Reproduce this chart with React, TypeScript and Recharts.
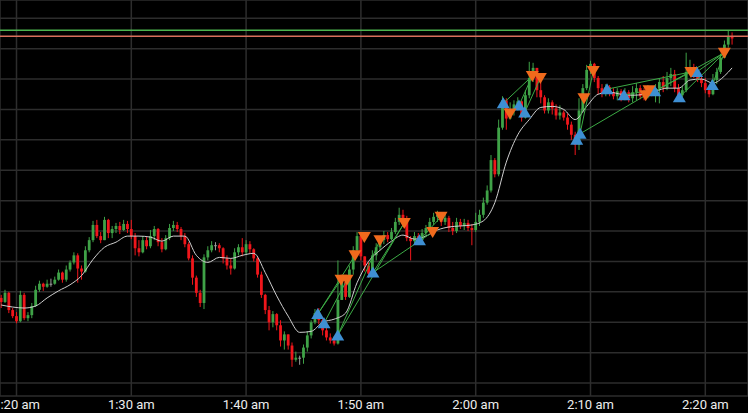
import {
    Bar,
    CartesianGrid,
    ComposedChart,
    Line,
    ReferenceLine,
    Scatter,
    XAxis,
    YAxis,
} from 'recharts';

// time axis: minutes after 1:20 am, one candle every 20 seconds
const FIRST_MINUTE = -4 / 3;
const CANDLE_STEP = 1 / 3;
const FIRST_OPEN = 84;

const TICK_MINUTES = [0, 10, 20, 30, 40, 50, 60];
const TIME_LABELS = ['1:20 am', '1:30 am', '1:40 am', '1:50 am', '2:00 am', '2:10 am', '2:20 am'];
const PRICE_GRID = [0, 30, 60, 90, 120, 150, 180, 210, 240, 270, 300, 330, 360];

const CLOSES = [
    80, 89, 72, 66, 61, 87, 64, 67, 76, 92,
    98, 95, 98, 98, 102, 109, 102, 112, 119, 126,
    113, 110, 131, 141, 156, 145, 141, 161, 148, 152,
    155, 151, 157, 152, 145, 133, 129, 141, 135, 145,
    152, 139, 132, 143, 153, 156, 152, 145, 137, 123,
    104, 89, 79, 124, 131, 136, 136, 133, 123, 116,
    113, 129, 134, 129, 137, 132, 123, 107, 87, 72,
    60, 68, 57, 42, 48, 37, 23, 25, 25, 35,
    47, 60, 69, 62, 52, 45, 42, 39, 82, 100,
    85, 112, 131, 145, 125, 116, 108, 126, 134, 141,
    146, 142, 149, 159, 166, 161, 143, 140, 145, 141,
    148, 153, 159, 164, 166, 159, 163, 153, 150, 159,
    155, 158, 153, 151, 159, 166, 178, 190, 220, 206,
    252, 279, 261, 269, 275, 278, 262, 284, 301, 311,
    289, 282, 269, 277, 271, 264, 267, 262, 255, 245,
    235, 269, 291, 309, 315, 301, 291, 286, 292, 287,
    283, 288, 282, 287, 281, 287, 291, 283, 282, 289,
    285, 291, 297, 291, 301, 305, 291, 284, 289, 307,
    311, 305, 300, 296, 289, 285, 299, 307, 321, 334,
    342, 340,
];

const HIGHS = [
    87, 92, 90, 74, 70, 91, 89, 70, 79, 96,
    101, 99, 102, 103, 105, 112, 110, 116, 121, 129,
    128, 116, 135, 144, 160, 161, 149, 164, 162, 155,
    158, 159, 161, 160, 161, 148, 141, 145, 144, 151,
    155, 153, 143, 146, 157, 160, 159, 154, 148, 139,
    126, 106, 92, 127, 135, 140, 139, 138, 134, 126,
    123, 133, 137, 143, 141, 140, 133, 125, 110, 88,
    76, 71, 69, 62, 51, 47, 40, 31, 27, 38,
    51, 62, 73, 74, 65, 56, 49, 46, 121, 104,
    103, 116, 135, 149, 148, 125, 119, 131, 138, 145,
    150, 149, 153, 163, 173, 171, 165, 145, 149, 148,
    152, 156, 163, 168, 170, 168, 167, 165, 159, 163,
    162, 162, 161, 157, 168, 171, 183, 195, 225, 222,
    260, 283, 281, 277, 279, 282, 279, 289, 317, 316,
    309, 304, 284, 281, 279, 275, 274, 269, 266, 258,
    248, 281, 295, 314, 318, 316, 303, 295, 295, 294,
    291, 291, 290, 291, 289, 293, 296, 294, 291, 294,
    293, 295, 301, 303, 307, 311, 309, 295, 293, 326,
    319, 315, 309, 304, 301, 294, 305, 311, 325, 338,
    348, 346,
];

const LOWS = [
    74, 79, 69, 64, 59, 60, 62, 61, 64, 75,
    90, 91, 94, 95, 97, 101, 99, 100, 110, 117,
    99, 102, 109, 129, 139, 143, 138, 141, 143, 143,
    148, 147, 150, 148, 142, 126, 125, 128, 132, 133,
    141, 135, 129, 131, 141, 150, 149, 141, 134, 121,
    97, 85, 75, 73, 121, 129, 131, 129, 118, 112,
    107, 112, 126, 125, 127, 128, 120, 104, 84, 68,
    52, 55, 52, 36, 33, 33, 16, 21, 18, 19,
    31, 44, 58, 58, 47, 42, 39, 37, 38, 85,
    82, 84, 107, 127, 121, 110, 104, 106, 121, 131,
    137, 139, 141, 147, 156, 157, 140, 121, 137, 138,
    139, 145, 151, 156, 159, 155, 156, 149, 146, 148,
    152, 151, 150, 136, 149, 155, 163, 176, 188, 203,
    204, 250, 250, 260, 264, 269, 258, 261, 281, 297,
    282, 276, 266, 266, 265, 260, 260, 259, 250, 240,
    225, 230, 267, 289, 305, 297, 285, 282, 283, 283,
    280, 279, 278, 279, 277, 277, 279, 280, 279, 281,
    283, 277, 276, 287, 289, 293, 287, 282, 282, 287,
    304, 301, 297, 292, 286, 282, 284, 295, 305, 321,
    331, 334,
];

// moving average, one reading per minute, plus the last candle
const MA_VALUES = [
    77, 75, 74, 76, 84, 91, 97, 106, 122, 134,
    139, 145, 145, 144, 140, 145, 145, 126, 119, 124,
    123, 126, 128, 109, 86, 66, 50, 51, 60, 63,
    69, 99, 120, 131, 140, 146, 142, 145, 151, 154,
    155, 156, 160, 178, 218, 245, 260, 272, 273, 270,
    260, 273, 285, 287, 285, 284, 285, 288, 291, 291,
    299, 300, 296, 303,
];
const MA_LAST = 311;

const BUY_TIMES = [26.24, 26.79, 27.98, 31.05, 35.1, 42.4, 43.77, 44.27, 48.8, 49.09, 51.44, 52.92, 55.59, 57.74, 59.25, 60.61];
const BUY_PRICES = [68, 59, 47, 109, 141, 276, 274, 267, 240, 246, 290, 284, 288, 282, 307, 294];
const SELL_TIMES = [28.27, 28.79, 29.49, 30.3, 31.66, 33.78, 36.25, 36.98, 42.99, 44.93, 45.63, 49.43, 50.24, 54.81, 55.1, 58.75, 61.66];
const SELL_PRICES = [102, 102, 126, 144, 141, 158, 149, 164, 266, 303, 301, 281, 308, 284, 289, 307, 326];

// [buy index, sell index]
const TRADES = [
    [0, 0], [0, 2], [1, 1], [2, 4], [2, 5], [3, 5], [3, 6], [4, 7],
    [5, 9], [6, 9], [7, 10], [8, 11], [9, 12], [9, 13], [10, 15],
    [11, 14], [12, 16], [13, 16], [14, 16], [15, 16], [12, 15],
];

const UPPER_LEVEL = 348.2;
const LOWER_LEVEL = 342.2;

const GREEN = '#3fa247';
const RED = '#f0161b';
const GREY = '#9c9c9c';
const BODY_WIDTH = 2.8;

const candles = CLOSES.map((close, i) => {
    const open = i === 0 ? FIRST_OPEN : CLOSES[i - 1];
    const high = Math.max(HIGHS[i], open, close);
    const low = Math.min(LOWS[i], open, close);
    return { t: FIRST_MINUTE + i * CANDLE_STEP, open, close, high, low, range: [low, high] };
});

const maData = [
    ...MA_VALUES.map((ma, k) => ({ t: FIRST_MINUTE + k, ma })),
    { t: FIRST_MINUTE + (CLOSES.length - 1) * CANDLE_STEP, ma: MA_LAST },
];

const buys = BUY_TIMES.map((t, i) => ({ t, p: BUY_PRICES[i] }));
const sells = SELL_TIMES.map((t, i) => ({ t, p: SELL_PRICES[i] }));

const Candle = (props: any) => {
    const { x, y, width, height, payload } = props;
    if (!payload || height == null) return null;
    const { open, close, high, low } = payload;
    const ratio = high === low ? 0 : height / (high - low);
    const yOpen = y + (high - open) * ratio;
    const yClose = y + (high - close) * ratio;
    const color = close > open ? GREEN : close < open ? RED : GREY;
    const cx = x + width / 2;
    const top = Math.min(yOpen, yClose);
    const bodyHeight = Math.max(1, Math.abs(yOpen - yClose));
    return (
        <g>
            <line x1={cx} x2={cx} y1={y} y2={y + height} stroke={color} strokeWidth={1} />
            <rect x={cx - BODY_WIDTH / 2} y={top} width={BODY_WIDTH} height={bodyHeight} fill={color} />
        </g>
    );
};

const UpTriangle = ({ cx, cy }: any) => (
    <polygon
        points={`${cx},${cy - 6} ${cx + 6.5},${cy + 5} ${cx - 6.5},${cy + 5}`}
        fill="#3e8fd3"
    />
);

const DownTriangle = ({ cx, cy }: any) => (
    <polygon
        points={`${cx - 6.5},${cy - 5} ${cx + 6.5},${cy - 5} ${cx},${cy + 6}`}
        fill="#f06a1c"
    />
);

const App = () => {
    return (
        <div style={{ width: 748, height: 413, background: '#000' }}>
            <style>{'body{margin:0;background:#000}'}</style>
            <ComposedChart
                width={748}
                height={413}
                data={candles}
                margin={{ top: 0, right: 0, bottom: 0, left: 0 }}
            >
                <CartesianGrid stroke="#2d2d2d" strokeWidth={1.5} />
                <XAxis
                    dataKey="t"
                    type="number"
                    domain={[-1.437, 63.72]}
                    allowDataOverflow
                    ticks={TICK_MINUTES}
                    interval={0}
                    tickFormatter={(v) => TIME_LABELS[TICK_MINUTES.indexOf(v)] ?? ''}
                    axisLine={false}
                    tickLine={false}
                    tickSize={0}
                    tickMargin={4}
                    height={17}
                    tick={{ fill: '#ededed', fontSize: 13, fontFamily: 'Roboto' }}
                />
                <YAxis hide domain={[-12.8, 378]} allowDataOverflow ticks={PRICE_GRID} />
                <ReferenceLine y={UPPER_LEVEL} stroke="#4cb34f" strokeWidth={1.5} />
                <ReferenceLine y={LOWER_LEVEL} stroke="#d9705c" strokeWidth={1.5} />
                <Bar
                    dataKey="range"
                    barSize={3}
                    shape={Candle}
                    isAnimationActive={false}
                />
                <Line
                    data={maData}
                    dataKey="ma"
                    type="monotone"
                    stroke="#cfcfcf"
                    strokeWidth={1}
                    dot={false}
                    activeDot={false}
                    isAnimationActive={false}
                />
                {TRADES.map(([b, s], i) => (
                    <ReferenceLine
                        key={i}
                        segment={[
                            { x: buys[b].t, y: buys[b].p },
                            { x: sells[s].t, y: sells[s].p },
                        ]}
                        stroke="#3caa45"
                        strokeWidth={1}
                    />
                ))}
                <Scatter data={buys} dataKey="p" shape={UpTriangle} isAnimationActive={false} />
                <Scatter data={sells} dataKey="p" shape={DownTriangle} isAnimationActive={false} />
            </ComposedChart>
        </div>
    );
};

export default App;
